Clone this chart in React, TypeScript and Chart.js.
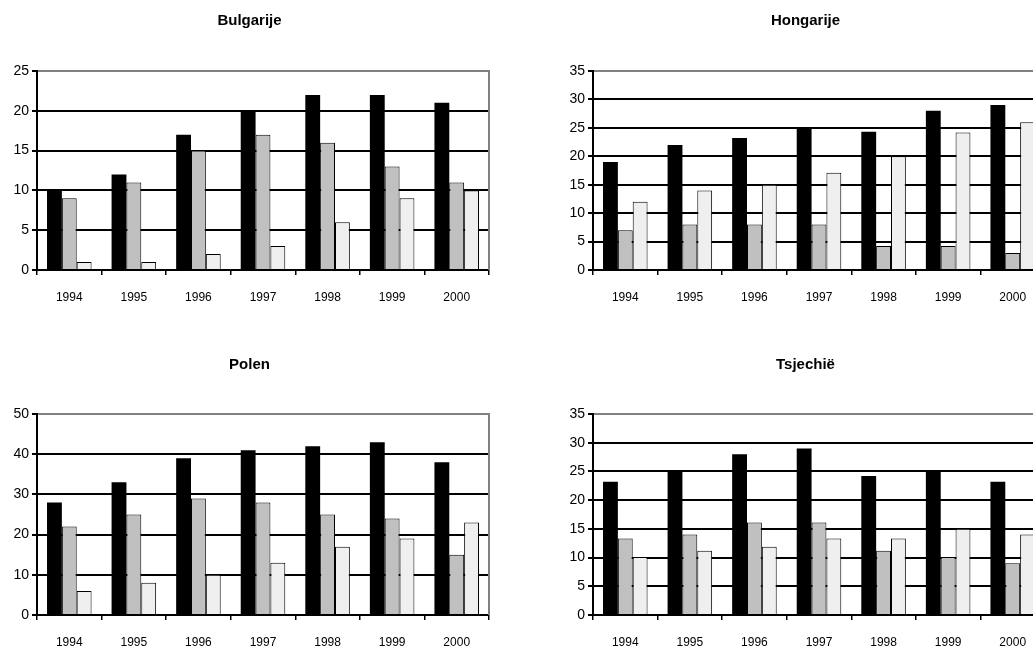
import { useEffect, useRef } from 'react';
import { Chart, registerables } from 'chart.js';

Chart.register(...registerables);
Chart.defaults.font.family = "'Liberation Sans', Arial, sans-serif";

const YEARS = ['1994', '1995', '1996', '1997', '1998', '1999', '2000'];

const BULGARIJE_BLACK = [10, 12, 17, 20, 22, 22, 21];
const BULGARIJE_GRAY = [9, 11, 15, 17, 16, 13, 11];
const BULGARIJE_LIGHT = [1, 1, 2, 3, 6, 9, 10];

const HONGARIJE_BLACK = [19, 22, 23.2, 25, 24.3, 28, 29];
const HONGARIJE_GRAY = [7, 8, 8, 8, 4.2, 4.2, 3];
const HONGARIJE_LIGHT = [12, 14, 15, 17.1, 20, 24.2, 26];

const POLEN_BLACK = [28, 33, 39, 41, 42, 43, 38];
const POLEN_GRAY = [22, 25, 29, 28, 25, 24, 15];
const POLEN_LIGHT = [6, 8, 10, 13, 17, 19, 23];

const TSJECHIE_BLACK = [23.2, 25, 28, 29, 24.2, 25, 23.2];
const TSJECHIE_GRAY = [13.3, 14, 16.1, 16.1, 11.2, 10.1, 9];
const TSJECHIE_LIGHT = [10.1, 11.2, 11.9, 13.3, 13.3, 15, 14];

const frameRight = {
  id: 'frameRight',
  beforeDatasetsDraw(chart: any) {
    const { ctx, chartArea } = chart;
    ctx.save();
    ctx.strokeStyle = '#808080';
    ctx.lineWidth = 2;
    ctx.beginPath();
    ctx.moveTo(chartArea.right, chartArea.top - 1);
    ctx.lineTo(chartArea.right, chartArea.bottom);
    ctx.stroke();
    ctx.restore();
  },
};

type PanelProps = {
  title: string;
  left: number;
  top: number;
  height: number;
  titleBottom: number;
  black: number[];
  gray: number[];
  light: number[];
  max: number;
  step: number;
};

function BarPanel(p: PanelProps) {
  const ref = useRef<HTMLCanvasElement>(null);
  useEffect(() => {
    const chart = new Chart(ref.current as HTMLCanvasElement, {
      type: 'bar',
      data: {
        labels: YEARS,
        datasets: [
          { data: p.black, backgroundColor: '#000000', borderColor: '#000000', borderWidth: 0 },
          { data: p.gray, backgroundColor: '#c0c0c0', borderColor: '#000000', borderWidth: 1 },
          { data: p.light, backgroundColor: '#efefef', borderColor: '#000000', borderWidth: 1 },
        ],
      },
      options: {
        responsive: false,
        animation: false,
        layout: { padding: { left: 10, right: 11, top: 0, bottom: 0 } },
        datasets: { bar: { categoryPercentage: 0.69, barPercentage: 1 } } as any,
        plugins: {
          legend: { display: false },
          tooltip: { enabled: false },
          title: {
            display: true,
            text: p.title,
            color: '#000',
            font: { size: 15, weight: 'bold', lineHeight: 1.2 },
            padding: { top: 11.5, bottom: p.titleBottom },
          },
        },
        scales: {
          x: {
            offset: true,
            afterFit: (scale: any) => {
              scale.height = 40;
            },
            grid: {
              offset: true,
              drawOnChartArea: false,
              drawTicks: true,
              tickLength: 5,
              color: '#000',
              lineWidth: 1.5,
            },
            border: { color: '#000', width: 2 },
            ticks: { color: '#000', padding: 15, font: { size: 12 }, maxRotation: 0, autoSkip: false },
          },
          y: {
            min: 0,
            max: p.max,
            afterFit: (scale: any) => {
              scale.width = 27;
            },
            grid: {
              color: (ctx: any) => (ctx.tick && ctx.tick.value === p.max ? '#808080' : '#000'),
              tickColor: '#000',
              lineWidth: 2,
              tickLength: 5,
            },
            border: { color: '#000', width: 2 },
            ticks: { stepSize: p.step, color: '#000', padding: 3, font: { size: 14 } },
          },
        },
      },
      plugins: [frameRight],
    } as any);
    return () => chart.destroy();
  }, []);
  return (
    <canvas
      ref={ref}
      width={500}
      height={p.height}
      style={{ position: 'absolute', left: p.left, top: p.top, width: 500, height: p.height }}
    />
  );
}

export default function App() {
  return (
    <div
      style={{
        position: 'absolute',
        left: 0,
        top: 0,
        width: 1033,
        height: 647,
        overflow: 'hidden',
        background: '#ffffff',
      }}
    >
      <BarPanel title="Bulgarije" left={0} top={0} height={310} titleBottom={41.5}
        black={BULGARIJE_BLACK} gray={BULGARIJE_GRAY} light={BULGARIJE_LIGHT} max={25} step={5} />
      <BarPanel title="Hongarije" left={556} top={0} height={310} titleBottom={41.5}
        black={HONGARIJE_BLACK} gray={HONGARIJE_GRAY} light={HONGARIJE_LIGHT} max={35} step={5} />
      <BarPanel title="Polen" left={0} top={344} height={311} titleBottom={40.5}
        black={POLEN_BLACK} gray={POLEN_GRAY} light={POLEN_LIGHT} max={50} step={10} />
      <BarPanel title="Tsjechië" left={556} top={344} height={311} titleBottom={40.5}
        black={TSJECHIE_BLACK} gray={TSJECHIE_GRAY} light={TSJECHIE_LIGHT} max={35} step={5} />
    </div>
  );
}
